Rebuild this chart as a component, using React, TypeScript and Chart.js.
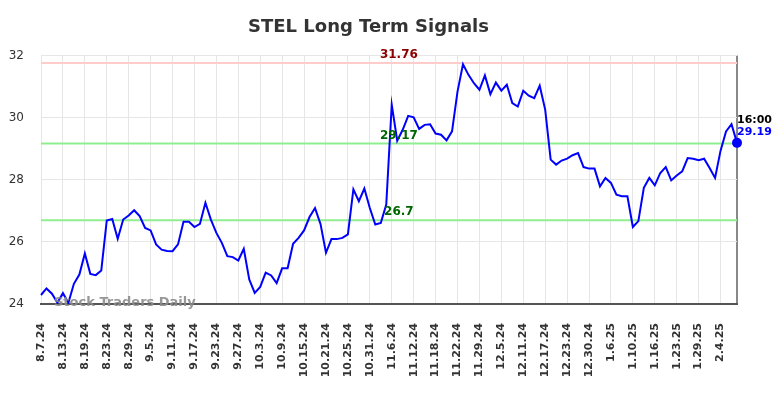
import React, { useEffect, useRef } from "react";
import { Chart, registerables } from "chart.js";

Chart.register(...registerables);

const TITLE = "STEL Long Term Signals";

const dates: string[] = [
  "8.7.24", "8.8.24", "8.9.24", "8.12.24", "8.13.24", "8.14.24", "8.15.24", "8.16.24",
  "8.19.24", "8.20.24", "8.21.24", "8.22.24", "8.23.24", "8.26.24", "8.27.24", "8.28.24",
  "8.29.24", "8.30.24", "9.3.24", "9.4.24", "9.5.24", "9.6.24", "9.9.24", "9.10.24",
  "9.11.24", "9.12.24", "9.13.24", "9.16.24", "9.17.24", "9.18.24", "9.19.24", "9.20.24",
  "9.23.24", "9.24.24", "9.25.24", "9.26.24", "9.27.24", "9.30.24", "10.1.24", "10.2.24",
  "10.3.24", "10.4.24", "10.7.24", "10.8.24", "10.9.24", "10.10.24", "10.11.24", "10.14.24",
  "10.15.24", "10.16.24", "10.17.24", "10.18.24", "10.21.24", "10.22.24", "10.23.24", "10.24.24",
  "10.25.24", "10.28.24", "10.29.24", "10.30.24", "10.31.24", "11.1.24", "11.4.24", "11.5.24",
  "11.6.24", "11.7.24", "11.8.24", "11.11.24", "11.12.24", "11.13.24", "11.14.24", "11.15.24",
  "11.18.24", "11.19.24", "11.20.24", "11.21.24", "11.22.24", "11.25.24", "11.26.24", "11.27.24",
  "11.29.24", "12.2.24", "12.3.24", "12.4.24", "12.5.24", "12.6.24", "12.9.24", "12.10.24",
  "12.11.24", "12.12.24", "12.13.24", "12.16.24", "12.17.24", "12.18.24", "12.19.24", "12.20.24",
  "12.23.24", "12.24.24", "12.26.24", "12.27.24", "12.30.24", "12.31.24", "1.2.25", "1.3.25",
  "1.6.25", "1.7.25", "1.8.25", "1.9.25", "1.10.25", "1.13.25", "1.14.25", "1.15.25",
  "1.16.25", "1.17.25", "1.21.25", "1.22.25", "1.23.25", "1.24.25", "1.27.25", "1.28.25",
  "1.29.25", "1.30.25", "1.31.25", "2.3.25", "2.4.25", "2.5.25", "2.6.25", "2.7.25",
];

const prices: number[] = [
  24.29, 24.5, 24.33, 24.04, 24.35, 24.04, 24.65, 24.95,
  25.63, 24.97, 24.93, 25.08, 26.69, 26.74, 26.1, 26.72,
  26.85, 27.02, 26.83, 26.45, 26.37, 25.92, 25.75, 25.71,
  25.7, 25.92, 26.65, 26.65, 26.48, 26.58, 27.26, 26.72,
  26.29, 25.97, 25.54, 25.51, 25.4, 25.78, 24.79, 24.36,
  24.55, 25.01, 24.92, 24.67, 25.15, 25.15, 25.94, 26.13,
  26.37, 26.8, 27.09, 26.58, 25.65, 26.09, 26.09, 26.13,
  26.24, 27.69, 27.31, 27.72, 27.09, 26.56, 26.61, 27.2,
  30.42, 29.26, 29.61, 30.06, 30.01, 29.64, 29.77, 29.79,
  29.49, 29.45, 29.27, 29.56, 30.84, 31.72, 31.38, 31.11,
  30.9, 31.36, 30.76, 31.13, 30.87, 31.06, 30.47, 30.36,
  30.87, 30.71, 30.63, 31.03, 30.26, 28.65, 28.49, 28.62,
  28.68, 28.79, 28.86, 28.41, 28.36, 28.36, 27.79, 28.06,
  27.9, 27.52, 27.47, 27.47, 26.48, 26.67, 27.74, 28.06,
  27.82, 28.22, 28.41, 27.98, 28.14, 28.27, 28.7, 28.68,
  28.63, 28.68, 28.38, 28.06, 28.94, 29.56, 29.79, 29.19,
];

const levelValues: number[] = [31.76, 29.17, 26.7];
const levelLabels: string[] = ["31.76", "29.17", "26.7"];
const levelLineColors: string[] = ["#ffcccc", "#90ee90", "#90ee90"];
const levelTextColors: string[] = ["#8b0000", "#006400", "#006400"];
const levelLabelIndex = 65.3;

const yTicks: number[] = [24, 26, 28, 30, 32];
const lastTimeLabel = "16:00";
const WATERMARK = "Stock Traders Daily";
const LABEL_EVERY = 4;
const FONT = "'DejaVu Sans', sans-serif";

const overlayPlugin = {
  id: "overlay",
  beforeDatasetsDraw(chart: any) {
    const { ctx, chartArea, scales } = chart;
    ctx.save();
    levelValues.forEach((v, i) => {
      const y = scales.y.getPixelForValue(v);
      ctx.strokeStyle = levelLineColors[i];
      ctx.lineWidth = 2;
      ctx.beginPath();
      ctx.moveTo(chartArea.left, y);
      ctx.lineTo(chartArea.right, y);
      ctx.stroke();
    });
    ctx.restore();
  },
  afterDatasetsDraw(chart: any) {
    const { ctx, chartArea, scales } = chart;
    ctx.save();
    ctx.font = `bold 12px ${FONT}`;
    ctx.textAlign = "center";
    ctx.textBaseline = "bottom";
    const lx = scales.x.getPixelForValue(levelLabelIndex);
    levelValues.forEach((v, i) => {
      const y = scales.y.getPixelForValue(v);
      ctx.fillStyle = levelTextColors[i];
      ctx.fillText(levelLabels[i], lx, y - 2);
    });
    const last = prices.length - 1;
    const px = scales.x.getPixelForValue(last);
    const py = scales.y.getPixelForValue(prices[last]);
    ctx.font = `bold 11px ${FONT}`;
    ctx.textAlign = "left";
    ctx.textBaseline = "middle";
    ctx.fillStyle = "#000";
    ctx.fillText(lastTimeLabel, px, py - 23);
    ctx.fillStyle = "#0000ff";
    ctx.fillText(prices[last].toFixed(2), px, py - 10.5);
    ctx.font = `bold 13px ${FONT}`;
    ctx.fillStyle = "rgba(140,140,140,0.9)";
    ctx.textAlign = "left";
    ctx.fillText(WATERMARK, chartArea.left + 13, chartArea.bottom - 1);
    ctx.restore();
  },
};

export default function App() {
  const ref = useRef<HTMLCanvasElement>(null);
  useEffect(() => {
    if (!ref.current) return;
    const last = prices.length - 1;
    const chart = new Chart(ref.current, {
      type: "line",
      data: {
        labels: dates,
        datasets: [
          {
            data: prices,
            borderColor: "#0000ff",
            backgroundColor: "#0000ff",
            borderWidth: 2,
            tension: 0,
            pointRadius: (c: any) => (c.dataIndex === last ? 4 : 0),
            pointHoverRadius: 0,
          },
        ],
      },
      options: {
        responsive: false,
        animation: false,
        layout: { padding: { left: 0, right: 47, top: 0, bottom: 0 } },
        plugins: {
          legend: { display: false },
          tooltip: { enabled: false },
          title: {
            display: true,
            text: TITLE,
            color: "#333",
            font: { family: FONT, size: 18, weight: "bold" },
            padding: { top: 17, bottom: 17 },
          },
        },
        scales: {
          x: {
            type: "category",
            offset: false,
            afterFit: (s: any) => {
              s.height = 94;
            },
            grid: {
              drawTicks: false,
              color: (c: any) =>
                c.index === last ? "#888" : c.index % LABEL_EVERY === 0 ? "#e6e6e6" : "rgba(0,0,0,0)",
              lineWidth: (c: any) => (c.index === last ? 2 : 1),
            },
            border: { color: "#555", width: 2 },
            ticks: {
              autoSkip: false,
              maxRotation: 90,
              minRotation: 90,
              padding: 19,
              color: "#333",
              font: { family: FONT, size: 11, weight: "bold" },
              callback: (_v: any, i: number) => (i % LABEL_EVERY === 0 ? dates[i] : ""),
            },
          },
          y: {
            min: yTicks[0],
            max: yTicks[yTicks.length - 1],
            afterFit: (s: any) => {
              s.width = 41;
            },
            afterBuildTicks: (s: any) => {
              s.ticks = yTicks.map((v) => ({ value: v }));
            },
            grid: { drawTicks: false, color: "#e6e6e6" },
            border: { display: false },
            ticks: {
              padding: 17,
              color: "#333",
              font: { family: FONT, size: 12 },
            },
          },
        },
      },
      plugins: [overlayPlugin],
    });
    return () => chart.destroy();
  }, []);
  return (
    <div style={{ position: "fixed", left: 0, top: 0, width: 784, height: 398, background: "#fff" }}>
      <canvas ref={ref} width={784} height={398} />
    </div>
  );
}
